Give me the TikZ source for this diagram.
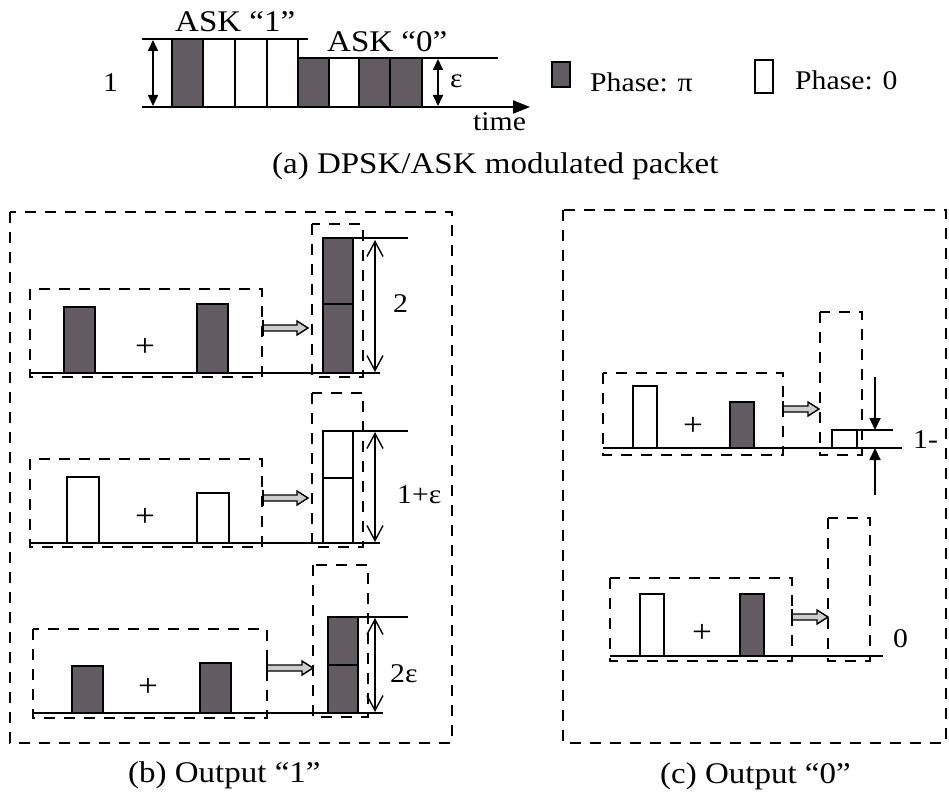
\documentclass[tikz,border=0pt]{standalone}
\usepackage{fontspec}
\setmainfont[FakeStretch=1.1]{Liberation Serif}
\usetikzlibrary{arrows.meta}
\definecolor{barfill}{RGB}{98,92,98}
\definecolor{arrfill}{RGB}{205,205,205}
\tikzset{
  lbl/.style={inner sep=0pt, anchor=base west, font=\fontsize{30}{34}\selectfont},
  sml/.style={inner sep=0pt, anchor=base west, font=\fontsize{27}{32}\selectfont},
  plus/.style={inner sep=0pt, anchor=center, font=\fontsize{32}{34}\selectfont},
  ln/.style={line width=1.8pt},
  dbox/.style={draw, line width=2.6pt, dash pattern=on 11pt off 9pt},
  dkbar/.style={draw, line width=1.7pt, fill=barfill},
  wbar/.style={draw, line width=1.7pt, fill=white},
  openarr/.style={line width=1.4pt, {Straight Barb[length=15pt,width=16pt]}-{Straight Barb[length=15pt,width=16pt]}},
  solarr/.style={line width=1.7pt, {Triangle[length=11pt,width=10pt]}-{Triangle[length=11pt,width=10pt]}},
  onearr/.style={line width=1.7pt, -{Triangle[length=12pt,width=11pt]}},
}
\newcommand\hollowarr[3]{%
  \draw[line width=1.4pt, fill=arrfill] (#1,{#3-3}) -- ({#2-11},{#3-3}) -- ({#2-11},{#3-7}) -- (#2,#3) -- ({#2-11},{#3+7}) -- ({#2-11},{#3+3}) -- (#1,{#3+3}) -- cycle;
  \draw[line width=2.4pt] (#1,{#3-8}) -- (#1,{#3+8});}
\begin{document}
\begin{tikzpicture}[x=1pt,y=-1pt]
\useasboundingbox (0,0) rectangle (949,797);

% ---------- (a) modulated packet ----------
\draw[dkbar] (172,39) rectangle (203,107);
\draw[wbar] (203,39) rectangle (235,107);
\draw[wbar] (235,39) rectangle (267,107);
\draw[wbar] (267,39) rectangle (298,107);
\draw[dkbar] (298,58) rectangle (329,107);
\draw[wbar] (329,58) rectangle (359,107);
\draw[dkbar] (359,58) rectangle (390,107);
\draw[dkbar] (390,58) rectangle (422,107);
\draw[ln] (142,39) -- (308,39);
\draw[ln] (298,58) -- (498,58);
\draw[ln,-{Triangle[length=17pt,width=13pt]}] (142,107) -- (530,107);
\draw[solarr] (153,40) -- (153,106);
\draw[solarr] (438,59) -- (438,106);
\node[lbl] (ask1) at (175,32) {ASK “1”};
\node[lbl] (ask0) at (327,52) {ASK “0”};
\node[sml] (one) at (103,92) {1};
\node[sml] (eps) at (450,88) {ε};
\node[sml] (time) at (473,130) {time};
\draw[dkbar] (552,62) rectangle (570,87);
\node[sml] (phpi) at (590,92) {Phase: π};
\draw[wbar] (755,60) rectangle (773,93);
\node[sml] (ph0) at (795,90) {Phase: 0};
\node[lbl] (capa) at (272,173) {(a) DPSK/ASK modulated packet};

% ---------- (b) output "1" ----------
\draw[dbox] (10,212) rectangle (452,743);
% row 1
\draw[dbox] (30,289) rectangle (262,377);
\draw[dbox] (312,224) rectangle (363,377);
\draw[dkbar] (64,307) rectangle (95,373);
\draw[dkbar] (197,304) rectangle (228,373);
\draw[dkbar] (323,238) rectangle (353,304);
\draw[dkbar] (323,304) rectangle (353,373);
\draw[ln] (30,373) -- (380,373);
\draw[ln] (353,238) -- (408,238);
\draw[openarr] (375,240) -- (375,372);
\node[plus] (p1) at (145,347) {+};
\hollowarr{263}{308}{328}
\node[sml] (l2) at (393,312) {2};
% row 2
\draw[dbox] (30,459) rectangle (262,547);
\draw[dbox] (312,393) rectangle (363,547);
\draw[wbar] (67,477) rectangle (99,543);
\draw[wbar] (197,493) rectangle (229,543);
\draw[wbar] (323,431) rectangle (353,478);
\draw[wbar] (323,478) rectangle (353,543);
\draw[ln] (30,543) -- (380,543);
\draw[ln] (353,431) -- (408,431);
\draw[openarr] (375,432) -- (375,542);
\node[plus] (p2) at (145,517) {+};
\hollowarr{263}{308}{498}
\node[sml] (l1e) at (397,503) {1+ε};
% row 3
\draw[dbox] (33,629) rectangle (267,718);
\draw[dbox] (313,565) rectangle (368,717);
\draw[dkbar] (72,666) rectangle (103,713);
\draw[dkbar] (200,663) rectangle (231,713);
\draw[dkbar] (328,617) rectangle (358,665);
\draw[dkbar] (328,665) rectangle (358,713);
\draw[ln] (33,713) -- (383,713);
\draw[ln] (358,617) -- (408,617);
\draw[openarr] (375,618) -- (375,712);
\node[plus] (p3) at (148,687) {+};
\hollowarr{267}{313}{668}
\node[sml] (l2e) at (390,682) {2ε};
\node[lbl] (capb) at (128,782) {(b) Output “1”};

% ---------- (c) output "0" ----------
\draw[dbox] (563,210) rectangle (946,743);
% row 1
\draw[dbox] (603,373) rectangle (783,455);
\draw[dbox] (820,312) rectangle (862,455);
\draw[wbar] (633,386) rectangle (657,448);
\draw[dkbar] (730,402) rectangle (754,448);
\draw[wbar] (832,430) rectangle (857,448);
\draw[ln] (603,448) -- (902,448);
\draw[ln] (857,430) -- (893,430);
\draw[onearr] (875,377) -- (875,430);
\draw[onearr] (875,495) -- (875,448);
\node[plus] (p4) at (693,426) {+};
\hollowarr{783}{819}{409}
\node[sml] (l1m) at (913,448) {1-};
% row 2
\draw[dbox] (610,578) rectangle (792,661);
\draw[dbox] (828,518) rectangle (870,661);
\draw[wbar] (640,594) rectangle (664,656);
\draw[dkbar] (740,594) rectangle (764,656);
\draw[ln] (610,656) -- (883,656);
\node[plus] (p5) at (702,633) {+};
\hollowarr{792}{828}{617}
\node[sml] (l0) at (893,647) {0};
\node[lbl] (capc) at (660,783) {(c) Output “0”};
\end{tikzpicture}
\end{document}
